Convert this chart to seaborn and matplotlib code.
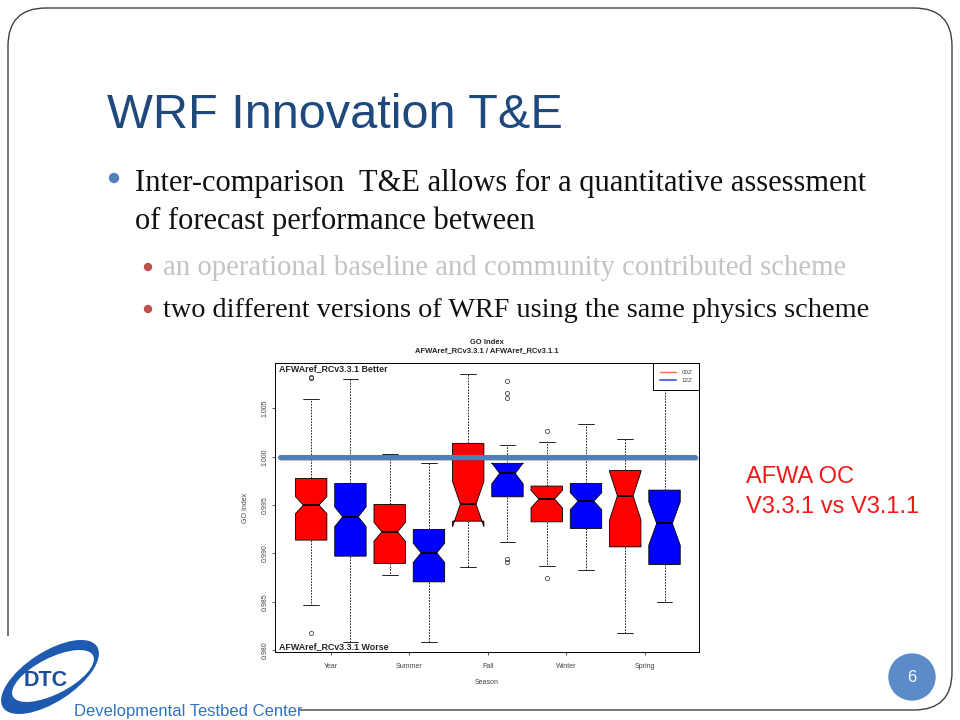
import pandas as pd
import matplotlib
matplotlib.use("Agg")
import matplotlib.pyplot as plt
import matplotlib.patheffects as pe
from matplotlib.lines import Line2D
from matplotlib.patches import FancyBboxPatch, Circle, Ellipse, Rectangle
import seaborn as sns

# ================================================
#  Datos (GO Index por estacion)
# ================================================
seasons = ["Year", "Summer", "Fall", "Winter", "Spring"]
runs = ["00Z", "12Z"]
run_colors = {"00Z": "#FF0000", "12Z": "#0000FF"}

# orden: Year 00Z, Year 12Z, Summer 00Z, Summer 12Z, ...
whisker_low = [0.98465, 0.98085, 0.98775, 0.98085, 0.98855, 0.99114, 0.98872, 0.98827, 0.98182, 0.98499]
q1 = [0.99138, 0.98972, 0.98896, 0.98706, 0.99334, 0.99586, 0.99327, 0.99259, 0.99068, 0.98886]
median = [0.99500, 0.99379, 0.99224, 0.99006, 0.99510, 0.99828, 0.99562, 0.99541, 0.99596, 0.99310]
q3 = [0.99776, 0.99724, 0.99507, 0.99248, 1.00139, 0.99932, 0.99697, 0.99724, 0.99859, 0.99655]
whisker_high = [1.00594, 1.00804, 1.00031, 0.99932, 1.00853, 1.00121, 1.00149, 1.00338, 1.00180, 1.00805]
n_cases = [129, 133, 97, 73, 29, 25, 41, 69, 25, 29]
outliers = [
    [1.00828, 1.00814, 0.98175],
    [],
    [],
    [],
    [],
    [1.00784, 1.00663, 1.00611, 0.98941, 0.98907],
    [1.00262, 0.98747],
    [],
    [],
    [],
]
REF_LEVEL = 1.0
y_ticks = [0.980, 0.985, 0.990, 0.995, 1.000, 1.005]


# Armo una muestra por caja que reproduce los cuartiles, bigotes y atipicos
def armar_muestra(lo, a, m, b, hi, n, extra):
    k = (n - 1) // 4
    bajos = sorted(v for v in extra if v < a)
    altos = sorted(v for v in extra if v > b)
    vals = bajos + [lo] + [a] * (k - len(bajos))
    vals += [m] * k
    vals += [b] * k
    vals += [b] * (k - 1 - len(altos)) + [hi] + altos
    return vals


filas = []
for i in range(len(median)):
    season = seasons[i // 2]
    run = runs[i % 2]
    for v in armar_muestra(whisker_low[i], q1[i], median[i], q3[i],
                           whisker_high[i], n_cases[i], outliers[i]):
        filas.append({"Season": season, "Run": run, "GO": v})
df = pd.DataFrame(filas)

# ================================================
#  Figura tipo diapositiva
# ================================================
sns.set_style("ticks")
plt.rcParams['font.family'] = ['Liberation Sans', 'DejaVu Sans']

fig = plt.figure(figsize=(9.6, 7.2), dpi=100)
bg = fig.add_axes([0, 0, 1, 1], zorder=0)
bg.set_xlim(0, 960)
bg.set_ylim(720, 0)
bg.axis('off')

# Marco redondeado
bg.add_patch(FancyBboxPatch((8, 8), 944, 702, boxstyle="round,pad=0,rounding_size=38",
                            facecolor='white', edgecolor='#404040', lw=1.0))
bg.add_patch(Rectangle((0, 636), 300, 84, facecolor='white', edgecolor='none'))

# Titulo y vinetas
bg.text(107, 128, "WRF Innovation T&E", fontsize=35, color='#1F497D', va='baseline')
serif = ['Liberation Serif', 'DejaVu Serif']
bg.add_patch(Circle((114, 178), 4.5, color='#4F81BD'))
bg.text(135, 191, "Inter-comparison  T&E allows for a quantitative assessment",
        fontsize=22, family=serif, color='#111111', va='baseline')
bg.text(135, 229, "of forecast performance between",
        fontsize=22, family=serif, color='#111111', va='baseline')
bg.add_patch(Circle((148, 267), 3.5, color='#C0504D'))
bg.text(163, 275, "an operational baseline and community contributed scheme",
        fontsize=20.7, family=serif, color='#C4C4C4', va='baseline')
bg.add_patch(Circle((148, 309), 3.5, color='#C0504D'))
bg.text(163, 317, "two different versions of WRF using the same physics scheme",
        fontsize=20.3, family=serif, color='#111111', va='baseline')

# Texto rojo a la derecha
bg.text(746, 483, "AFWA OC", fontsize=17, color='#F01818', va='baseline')
bg.text(746, 513, "V3.3.1 vs V3.1.1", fontsize=17, color='#F01818', va='baseline')

# Numero de pagina
bg.add_patch(Circle((912, 677), 23, color='#5B8BC9'))
bg.text(912, 677, "6", fontsize=12, color='white', ha='center', va='center')

# Logo DTC
bg.add_patch(Ellipse((50, 677), 112, 50, angle=-33, facecolor='#1E5BB0', edgecolor='none'))
bg.add_patch(Ellipse((53, 676), 90, 36, angle=-27, facecolor='white', edgecolor='none'))
bg.text(46, 681, "DTC", fontsize=15.5, fontweight='bold', color='#1B4F9C', ha='center', va='center')
bg.text(74, 716, "Developmental Testbed Center", fontsize=12, color='#2E74C0', va='baseline')

# ================================================
#  Grafico de cajas
# ================================================
ax = fig.add_axes([0.2865, 0.0944, 0.4417, 0.4014], zorder=2)
sns.boxplot(
    data=df, x='Season', y='GO', hue='Run', order=seasons, hue_order=runs,
    palette=run_colors, saturation=1, width=1.0, gap=0.2, notch=True,
    linecolor='black', linewidth=0.6, whis=1.5, legend=False, ax=ax,
    whiskerprops=dict(linestyle=(0, (2, 1.5)), linewidth=0.6),
    capprops=dict(linewidth=0.6),
    medianprops=dict(linewidth=1.3, color='black'),
    flierprops=dict(marker='o', markerfacecolor='none', markeredgecolor='#222222',
                    markeredgewidth=0.5, markersize=3),
)

ax.axhline(REF_LEVEL, xmin=0.012, xmax=0.99, color='#4F7FBA', lw=3.6, zorder=6,
           path_effects=[pe.SimpleLineShadow(offset=(0.5, -1.2), shadow_color='#555555', alpha=0.35),
                         pe.Normal()])

ax.set_xlim(-0.71, 4.69)
ax.set_ylim(0.9798, 1.0097)
ax.set_yticks(y_ticks)
ax.set_yticklabels([f"{t:.3f}" for t in y_ticks], va='center')
ax.tick_params(axis='both', length=2.5, width=0.6, colors='#333333', labelsize=5, labelcolor='#444444')
ax.tick_params(axis='y', labelrotation=90, pad=2)
ax.tick_params(axis='x', pad=5.5)
for s in ax.spines.values():
    s.set_linewidth(0.7)
    s.set_color('black')

ax.set_title("GO Index\nAFWAref_RCv3.3.1 / AFWAref_RCv3.1.1", fontsize=5.5,
             fontweight='bold', pad=7.5, linespacing=1.25)
ax.set_xlabel("Season", fontsize=5, color='#444444')
ax.set_ylabel("GO Index", fontsize=5, color='#444444')
ax.xaxis.set_label_coords(0.5, -0.092)
ax.yaxis.set_label_coords(-0.0625, 0.5)

ax.text(0.01, 0.997, "AFWAref_RCv3.3.1 Better", transform=ax.transAxes,
        fontsize=6.4, fontweight='bold', va='top', ha='left')
ax.text(0.01, 0.003, "AFWAref_RCv3.3.1 Worse", transform=ax.transAxes,
        fontsize=6.4, fontweight='bold', va='bottom', ha='left')

handles = [Line2D([], [], color='#E8704A', lw=1.0, label='00Z'),
           Line2D([], [], color='#5B6FE8', lw=1.5, label='12Z')]
leg = ax.legend(handles=handles, loc='upper right', fontsize=4.5, frameon=True,
                fancybox=False, edgecolor='black', borderaxespad=0, handlelength=2.6,
                handletextpad=0.8, labelspacing=0.35, borderpad=1.1, framealpha=1)
leg.get_frame().set_linewidth(0.7)
for t in leg.get_texts():
    t.set_color('#444444')

fig.savefig("out.png", dpi=100)
